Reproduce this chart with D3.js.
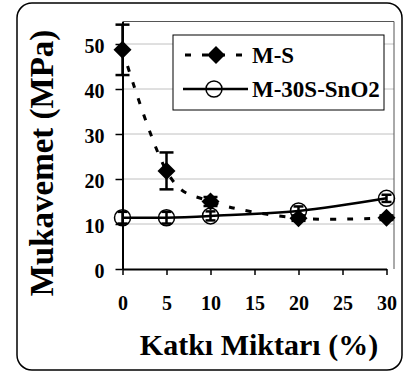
<!DOCTYPE html>
<html>
<head>
<meta charset="utf-8">
<script src="https://cdn.jsdelivr.net/npm/d3@7"></script>
<style>
  body { margin: 0; background: #fff; }
</style>
</head>
<body>
<svg id="chart" width="403" height="372"></svg>
<script>
// data
const additive = [0, 5, 10, 20, 30];
const msValues = [48.7, 21.8, 15.0, 11.3, 11.4];
const msErrors = [5.6, 4.1, 1.0, 0.6, 0.5];
const snValues = [11.4, 11.4, 11.8, 12.9, 15.7];
const snErrors = [1.3, 1.3, 1.0, 1.0, 0.8];
const xTicks = [0, 5, 10, 15, 20, 25, 30];
const yTicks = [0, 10, 20, 30, 40, 50];
const seriesNames = ["M-S", "M-30S-SnO2"];

const serif = "'Liberation Serif', 'Times New Roman', serif";

const svg = d3.select("#chart");

// outer rounded frame
svg.append("rect")
    .attr("x", 17).attr("y", 3)
    .attr("width", 385).attr("height", 367)
    .attr("rx", 15).attr("ry", 15)
    .attr("fill", "#fff")
    .attr("stroke", "#000")
    .attr("stroke-width", 1.5);

const x = d3.scaleLinear().domain([0, 30]).range([122.5, 386.5]);
const y = d3.scaleLinear().domain([0, 55]).range([269, 21.5]);
const plotRight = 394;

// gridlines
svg.append("g")
    .selectAll("line")
    .data(yTicks.filter(d => d > 0))
    .join("line")
    .attr("x1", x(0)).attr("x2", plotRight)
    .attr("y1", d => y(d)).attr("y2", d => y(d))
    .attr("stroke", "#c0c0c0")
    .attr("stroke-width", 1);

// plot area top / right border
svg.append("path")
    .attr("d", `M${x(0)},${y(55)}H${plotRight}V${y(0)}`)
    .attr("fill", "none")
    .attr("stroke", "#555")
    .attr("stroke-width", 1);

// axes
const yAxis = svg.append("g")
    .attr("transform", `translate(${x(0)},0)`)
    .call(d3.axisLeft(y).tickValues(yTicks).tickSize(7).tickPadding(11).tickSizeOuter(0));
const xAxis = svg.append("g")
    .attr("transform", `translate(0,${y(0)})`)
    .call(d3.axisBottom(x).tickValues(xTicks).tickSize(6).tickPadding(21).tickSizeOuter(0));

for (let ax of [xAxis, yAxis]) {
    ax.select(".domain").attr("stroke", "#000").attr("stroke-width", 2);
    ax.selectAll(".tick line").attr("stroke", "#000").attr("stroke-width", 1.5);
    ax.selectAll(".tick text")
        .attr("fill", "#000")
        .style("font-family", serif)
        .style("font-size", "20px")
        .style("font-weight", "bold");
}
yAxis.selectAll(".tick text").attr("dy", "0.4em");

// axis titles
svg.append("text")
    .attr("x", 259).attr("y", 355)
    .attr("text-anchor", "middle")
    .style("font-family", serif).style("font-weight", "bold")
    .style("font-size", "30px")
    .text("Katkı Miktarı (%)");

svg.append("text")
    .attr("transform", "translate(53,163) rotate(-90)")
    .attr("text-anchor", "middle")
    .style("font-family", serif).style("font-weight", "bold")
    .style("font-size", "33px")
    .text("Mukavemet (MPa)");

const smooth = d3.curveCatmullRom.alpha(0);
const msData = additive.map((a, i) => ({ x: a, v: msValues[i], e: msErrors[i] }));
const snData = additive.map((a, i) => ({ x: a, v: snValues[i], e: snErrors[i] }));

const line = d3.line().x(d => x(d.x)).y(d => y(d.v)).curve(smooth);

// error bars
function errorBars(data, capHalf) {
    const g = svg.append("g").attr("stroke", "#000").attr("stroke-width", 2.5);
    g.selectAll("line.v").data(data).join("line")
        .attr("x1", d => x(d.x)).attr("x2", d => x(d.x))
        .attr("y1", d => y(d.v + d.e)).attr("y2", d => y(d.v - d.e));
    for (let sign of [1, -1]) {
        g.selectAll("line.c" + sign).data(data).join("line")
            .attr("x1", d => x(d.x) - capHalf).attr("x2", d => x(d.x) + capHalf)
            .attr("y1", d => y(d.v + sign * d.e)).attr("y2", d => y(d.v + sign * d.e));
    }
}

const diamond = "M0,-9L9,0L0,9L-9,0Z";

// M-S series
svg.append("path")
    .attr("d", line(msData))
    .attr("fill", "none")
    .attr("stroke", "#000")
    .attr("stroke-width", 3)
    .attr("stroke-dasharray", "6,11");
errorBars(msData, 7);
svg.append("g").selectAll("path").data(msData).join("path")
    .attr("transform", d => `translate(${x(d.x)},${y(d.v)})`)
    .attr("d", diamond)
    .attr("fill", "#000");

// M-30S-SnO2 series
svg.append("path")
    .attr("d", line(snData))
    .attr("fill", "none")
    .attr("stroke", "#000")
    .attr("stroke-width", 2.5);
errorBars(snData, 5);
svg.append("g").selectAll("circle").data(snData).join("circle")
    .attr("cx", d => x(d.x)).attr("cy", d => y(d.v))
    .attr("r", 8)
    .attr("fill", "none")
    .attr("stroke", "#000")
    .attr("stroke-width", 1.5);

// legend
const legend = svg.append("g");
legend.append("rect")
    .attr("x", 173).attr("y", 35)
    .attr("width", 211).attr("height", 75)
    .attr("fill", "#fff")
    .attr("stroke", "#000")
    .attr("stroke-width", 1);

const rows = [55, 89];
legend.append("line")
    .attr("x1", 183).attr("x2", 247).attr("y1", rows[0]).attr("y2", rows[0])
    .attr("stroke", "#000").attr("stroke-width", 3).attr("stroke-dasharray", "6,11")
    .attr("stroke-dashoffset", -2);
legend.append("path")
    .attr("transform", `translate(216,${rows[0]})`)
    .attr("d", diamond)
    .attr("fill", "#000");
legend.append("line")
    .attr("x1", 183).attr("x2", 248).attr("y1", rows[1]).attr("y2", rows[1])
    .attr("stroke", "#000").attr("stroke-width", 2.5);
legend.append("circle")
    .attr("cx", 214).attr("cy", rows[1]).attr("r", 8)
    .attr("fill", "none").attr("stroke", "#000").attr("stroke-width", 1.5);

legend.selectAll("text").data(seriesNames).join("text")
    .attr("x", 252)
    .attr("y", (d, i) => rows[i])
    .attr("dy", "0.36em")
    .style("font-family", serif).style("font-weight", "bold")
    .style("font-size", "23px")
    .text(d => d);
</script>
</body>
</html>
